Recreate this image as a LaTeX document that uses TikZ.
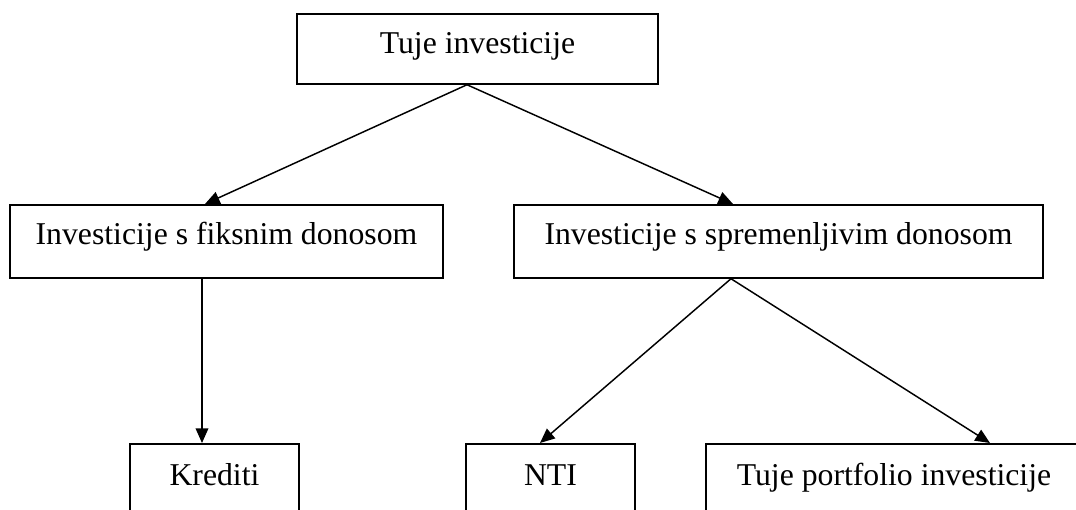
\documentclass[tikz,border=0pt]{standalone}
\usepackage{fontspec}
\setmainfont{Liberation Serif}
\usetikzlibrary{calc,arrows.meta}
\tikzset{
  >={Triangle[length=11pt,width=9.5pt]},
  box/.style={draw,rectangle,line width=1.3pt,inner sep=0pt,anchor=north,font=\fontsize{23.8}{28}\selectfont},
}
\begin{document}
\begin{tikzpicture}[x=0.75pt,y=-0.75pt,line width=1.1pt]
  \useasboundingbox (0,0) rectangle (1076,510);
  \node (TujeInvesticije) at (477.5,13) [box,minimum width=270.75pt,text height=30pt,text depth=22.5pt] {Tuje investicije};
  \node (FiksniDonos) at (226.5,204) [box,minimum width=324.75pt,text height=30pt,text depth=24.75pt] {Investicije s fiksnim donosom};
  \node (SpremenljiviDonos) at (778.5,204) [box,minimum width=396.75pt,text height=30pt,text depth=24.75pt] {Investicije s spremenljivim donosom};
  \node (Krediti) at (214.5,443) [box,minimum width=126.75pt,text height=31.5pt,text depth=60pt] {Krediti};
  \node (NTI) at (550.5,443) [box,minimum width=126.75pt,text height=31.5pt,text depth=60pt] {NTI};
  \node (TujePortfolio) at (894,443) [box,minimum width=282pt,text height=31.5pt,text depth=60pt] {Tuje portfolio investicije};
  \draw [->] ($(TujeInvesticije.south)+(-10.5,0)$) -- ($(FiksniDonos.north)+(-21.5,0)$);
  \draw [->] ($(TujeInvesticije.south)+(-10.5,0)$) -- ($(SpremenljiviDonos.north)+(-45.5,0)$);
  \draw [->] ($(FiksniDonos.south)+(-24.5,0)$) -- ($(Krediti.north)+(-12.5,0)$);
  \draw [->] ($(SpremenljiviDonos.south)+(-47.5,0)$) -- ($(NTI.north)+(-10.5,0)$);
  \draw [->] ($(SpremenljiviDonos.south)+(-47.5,0)$) -- ($(TujePortfolio.north)+(96,0)$);
\end{tikzpicture}
\end{document}
